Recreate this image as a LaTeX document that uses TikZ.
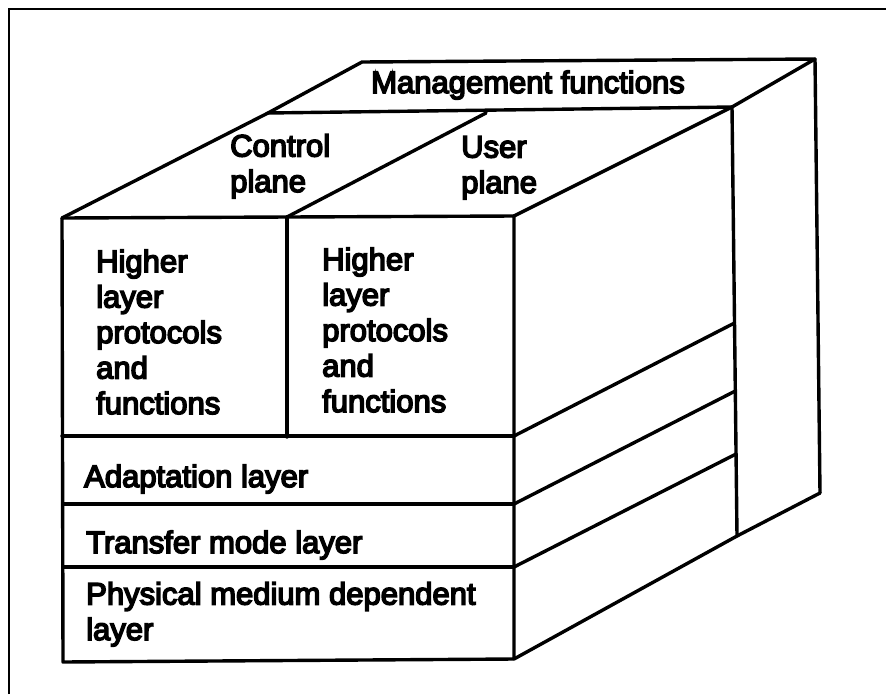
\documentclass[tikz,border=0pt]{standalone}
\usepackage{fontspec}
\newfontfamily\labelfont{Liberation Sans}[FakeBold=5]
\begin{document}
\begin{tikzpicture}[x=1pt,y=-1pt,
  edge/.style={line width=3.4pt,line cap=round,line join=round},
  frameline/.style={line width=2pt},
  txt/.style={font=\labelfont\fontsize{31}{35.5}\selectfont,inner sep=0pt,anchor=base west,align=left}]
\useasboundingbox (0,0) rectangle (886,694);

% page frame (left and top edges only)
\draw[frameline] (9,694) -- (9,9) -- (886,9);

% front face corners
\coordinate (ftl) at (62,218);
\coordinate (ftr) at (514,216);
\coordinate (fbr) at (514,659);
\coordinate (fbl) at (63,662);
\coordinate (fdivt) at (287,217);
\coordinate (fdivb) at (287,437);
\coordinate (fl1) at (62,436);  \coordinate (fr1) at (514,436);
\coordinate (fl2) at (63,504);  \coordinate (fr2) at (514,504);
\coordinate (fl3) at (63,567);  \coordinate (fr3) at (514,567);

% top face
\coordinate (mfl) at (268,113);
\coordinate (mfr) at (732,107);
\coordinate (mbl) at (362,62);
\coordinate (mbr) at (815,59);
\coordinate (udivb) at (486,113);

% right side
\coordinate (mfb) at (737,536);
\coordinate (mbb) at (820,493);
\coordinate (s1) at (734.5,323);
\coordinate (s2) at (735.3,391);
\coordinate (s3) at (736,454);

% front face
\draw[edge] (ftl) -- (ftr) -- (fbr) -- (fbl) -- cycle;
\draw[edge] (fdivt) -- (fdivb);
\draw[edge] (fl1) -- (fr1);
\draw[edge] (fl2) -- (fr2);
\draw[edge] (fl3) -- (fr3);

% top face: control plane, user plane, management strip
\draw[edge] (ftl) -- (mfl) -- (mbl) -- (mbr) -- (mfr) -- (ftr);
\draw[edge] (mfl) -- (mfr);
\draw[edge] (fdivt) -- (udivb);

% right side: layer edges, management block
\draw[edge] (mfr) -- (mfb);
\draw[edge] (mbr) -- (mbb);
\draw[edge] (fbr) -- (mfb) -- (mbb);
\draw[edge] (fr1) -- (s1);
\draw[edge] (fr2) -- (s2);
\draw[edge] (fr3) -- (s3);

% labels (multi-line nodes are anchored at the baseline of their last line)
\node[txt] (mgmt) at (371,93) {Management functions};
\node[txt] (ctrl) at (230,192) {Control\\plane};
\node[txt] (user) at (461,193) {User\\plane};
\node[txt] (hlc) at (96,414) {Higher\\layer\\protocols\\and\\functions};
\node[txt] (hlu) at (322,412) {Higher\\layer\\protocols\\and\\functions};
\node[txt] (adapt) at (84,487) {Adaptation layer};
\node[txt] (tml) at (86,553) {Transfer mode layer};
\node[txt] (pmd) at (86,640) {Physical medium dependent\\layer};
\end{tikzpicture}
\end{document}
